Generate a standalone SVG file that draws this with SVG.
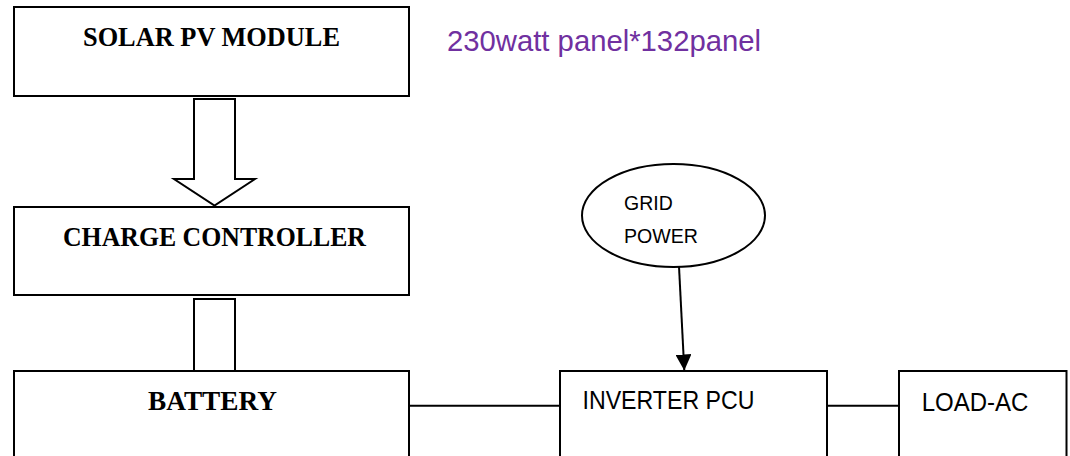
<svg xmlns="http://www.w3.org/2000/svg" width="1070" height="456" viewBox="0 0 1070 456">
  <style>
    .box { fill: #ffffff; stroke: #000000; stroke-width: 2; }
    .blk { fill: #ffffff; stroke: #000000; stroke-width: 2; stroke-linejoin: miter; }
    .wire { fill: none; stroke: #000000; stroke-width: 2; }
    .serif { font-family: "Liberation Serif", "Times New Roman", serif; font-weight: bold; font-size: 28px; fill: #000000; text-anchor: middle; }
    .sans { font-family: "Liberation Sans", Arial, sans-serif; fill: #000000; }
    .note { font-family: "Liberation Sans", Arial, sans-serif; font-size: 29px; fill: #7030A0; }
  </style>
  <defs>
    <marker id="arrowHead" viewBox="0 0 16 16" refX="16" refY="8" markerWidth="16" markerHeight="16" markerUnits="userSpaceOnUse" orient="auto">
      <path d="M0,0 L16,8 L0,16 Z" fill="#000000"/>
    </marker>
  </defs>
  <rect width="1070" height="456" fill="#ffffff"/>

  <g id="connectors">
    <path class="blk" d="M194,99 L235,99 L235,179 L255,179 L214.5,205.5 L174,179 L194,179 Z"/>
    <rect class="blk" x="194" y="299" width="41" height="72"/>
    <line class="wire" x1="409" y1="405.7" x2="560" y2="405.7"/>
    <line class="wire" x1="827" y1="405.7" x2="899" y2="405.7"/>
    <line class="wire" x1="679" y1="266.5" x2="684.3" y2="370.5" marker-end="url(#arrowHead)"/>
  </g>

  <g id="solar-pv-module">
    <rect class="box" x="14" y="7" width="395" height="89"/>
    <text class="serif" x="211.5" y="46" textLength="257" lengthAdjust="spacingAndGlyphs">SOLAR PV MODULE</text>
  </g>

  <g id="panel-note">
    <text class="note" x="447" y="51" textLength="314" lengthAdjust="spacingAndGlyphs">230watt panel*132panel</text>
  </g>

  <g id="charge-controller">
    <rect class="box" x="14" y="207" width="395" height="88"/>
    <text class="serif" x="214.5" y="246" textLength="303" lengthAdjust="spacingAndGlyphs">CHARGE CONTROLLER</text>
  </g>

  <g id="battery">
    <rect class="box" x="14" y="371" width="395" height="100"/>
    <text class="serif" x="212.5" y="410" textLength="129" lengthAdjust="spacingAndGlyphs">BATTERY</text>
  </g>

  <g id="grid-power">
    <ellipse class="box" cx="673.5" cy="215.5" rx="91.5" ry="51.5"/>
    <text class="sans" x="624" y="210" font-size="20" textLength="48.7" lengthAdjust="spacingAndGlyphs">GRID</text>
    <text class="sans" x="624" y="243" font-size="20" textLength="74" lengthAdjust="spacingAndGlyphs">POWER</text>
  </g>

  <g id="inverter-pcu">
    <rect class="box" x="560" y="371" width="267" height="100"/>
    <text class="sans" x="582.5" y="409" font-size="26" textLength="172" lengthAdjust="spacingAndGlyphs">INVERTER PCU</text>
  </g>

  <g id="load-ac">
    <rect class="box" x="899" y="371" width="167.5" height="100"/>
    <text class="sans" x="921.7" y="410.5" font-size="26" textLength="106.7" lengthAdjust="spacingAndGlyphs">LOAD-AC</text>
  </g>
</svg>
